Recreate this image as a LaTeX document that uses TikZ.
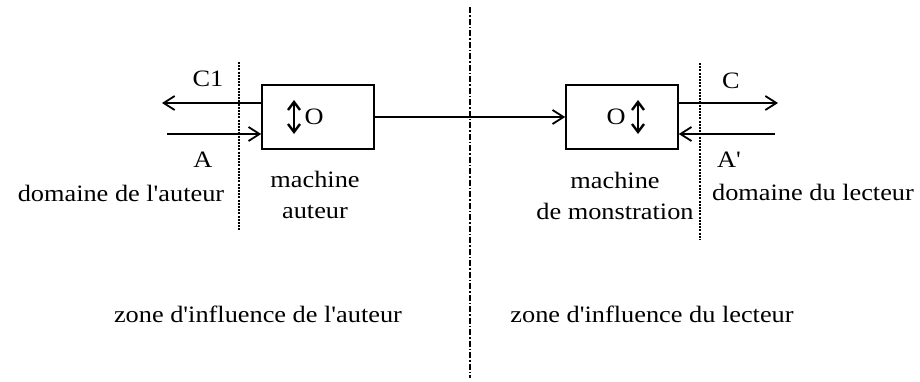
\documentclass[tikz,border=0pt]{standalone}
\usepackage{fontspec}
\setmainfont{Liberation Serif}[FakeStretch=1.12, Ligatures=TeXOff]
\usetikzlibrary{arrows.meta}
\begin{document}
\begin{tikzpicture}[x=1pt,y=-1pt,
  lbl/.style={font=\fontsize{23.5}{31}\selectfont, inner sep=0pt, anchor=base},
  mlbl/.style={font=\fontsize{23.5}{31}\selectfont, inner sep=0pt, align=center, anchor=base},
  machinebox/.style={draw, line width=1.6pt, minimum width=112pt, minimum height=64pt, inner sep=0pt},
  flow/.style={line width=1.7pt, -{Straight Barb[length=11pt,width=14pt,line width=1.8pt]}},
  dbl/.style={line width=2.2pt, {Straight Barb[length=8pt,width=12pt,line width=2.4pt]}-{Straight Barb[length=8pt,width=12pt,line width=2.4pt]}},
  fence/.style={line width=1.2pt, dash pattern=on 2pt off 1.2pt},
  divider/.style={line width=1.2pt, dash pattern=on 6pt off 2pt on 1.5pt off 2pt}
]
\useasboundingbox (0,0) rectangle (920,381);

% divider lines
\coordinate (dtop) at (470,7);
\coordinate (dbot) at (470,378);
\draw[divider] (dtop) -- (dbot);
\coordinate (ltop) at (239,62);
\coordinate (lbot) at (239,230);
\draw[fence] (ltop) -- (lbot);
\coordinate (rtop) at (700,63);
\coordinate (rbot) at (700,240);
\draw[fence] (rtop) -- (rbot);

% machines
\node[machinebox] (ma) at (318,117) {};
\node[machinebox] (mm) at (622,117) {};

% inner symbols
\coordinate (la1) at (294,100);
\coordinate (la2) at (294,134);
\draw[dbl] (la1) -- (la2);
\node[lbl, anchor=center] (lo) at (314,117) {O};
\coordinate (ra1) at (638,100);
\coordinate (ra2) at (638,134);
\draw[dbl] (ra1) -- (ra2);
\node[lbl, anchor=center] (ro) at (616,117) {O};

% connector
\draw[flow] (ma.east) -- (mm.west);

% left flows
\coordinate (c1end) at (162,103);
\draw[flow] (ma.west |- c1end) -- (c1end);
\coordinate (astart) at (167,134);
\draw[flow] (astart) -- (ma.west |- astart);

% right flows
\coordinate (cend) at (778,103);
\draw[flow] (mm.east |- cend) -- (cend);
\coordinate (apstart) at (775,134);
\draw[flow] (apstart) -- (mm.east |- apstart);

% labels
\node[lbl] (lc1) at (208,86) {C1};
\node[lbl] (la) at (203,167) {A};
\node[lbl] (ldom) at (121,201) {domaine de l'auteur};
\node[mlbl] (lmach) at (315,218) {machine\\auteur};

\node[lbl] (lc) at (731,88) {C};
\node[lbl] (lap) at (729,167) {A'};
\node[lbl] (rdom) at (813,200) {domaine du lecteur};
\node[mlbl] (rmach) at (615,219) {machine\\de monstration};

\node[lbl] (zl) at (258,322) {zone d'influence de l'auteur};
\node[lbl] (zr) at (652,322) {zone d'influence du lecteur};
\end{tikzpicture}
\end{document}
